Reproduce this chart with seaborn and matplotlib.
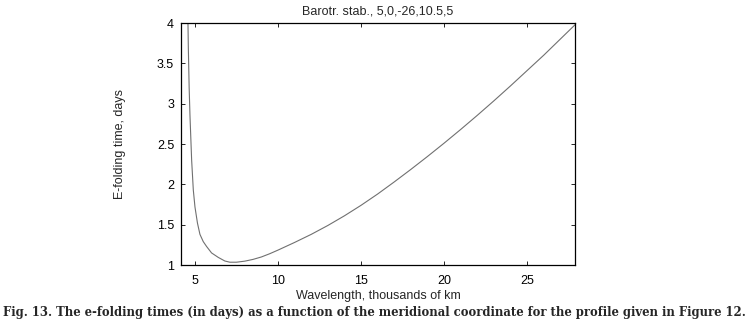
import matplotlib
matplotlib.use("Agg")
import matplotlib.pyplot as plt
import seaborn as sns
import pandas as pd

wavelength = [4.55, 4.6, 4.65, 4.7, 4.8, 4.9, 5.0, 5.15, 5.3, 5.5, 5.7, 6.0, 6.4, 6.8, 7.1,
              7.5, 8.0, 8.5, 9.0, 9.5, 10, 11, 12, 13, 14, 15, 16, 17, 18, 19, 20, 21,
              22, 23, 24, 25, 26, 27, 28]
efold_days = [4.4, 3.7, 3.2, 2.85, 2.3, 1.93, 1.72, 1.52, 1.38, 1.29, 1.23, 1.15, 1.095,
              1.05, 1.035, 1.035, 1.048, 1.07, 1.10, 1.14, 1.185, 1.28, 1.38, 1.49, 1.61,
              1.74, 1.88, 2.03, 2.185, 2.345, 2.51, 2.68, 2.855, 3.035, 3.22, 3.41, 3.60,
              3.80, 4.0]
x_ticks = [5, 10, 15, 20, 25]
y_ticks = [1, 1.5, 2, 2.5, 3, 3.5, 4]
y_tick_labels = ["1", "1.5", "2", "2.5", "3", "3.5", "4"]

title = "Barotr. stab., 5,0,-26,10.5,5"
xlabel = "Wavelength, thousands of km"
ylabel = "E-folding time, days"
caption = ("Fig. 13. The e-folding times (in days) as a function of the meridional "
           "coordinate for the profile given in Figure 12.")

sns.set_theme(style="white")
plt.rcParams['font.family'] = ['Liberation Sans', 'DejaVu Sans']

df = pd.DataFrame({"x": wavelength, "y": efold_days})

fig = plt.figure(figsize=(7.48, 3.24), dpi=100)
ax = fig.add_axes([0.242, 0.182, 0.527, 0.747])
sns.lineplot(data=df, x="x", y="y", ax=ax, color="#707070", linewidth=0.8)

ax.set_xlim(4.16, 27.9)
ax.set_ylim(1, 4)
ax.set_xticks(x_ticks)
ax.set_xticklabels([str(t) for t in x_ticks])
ax.set_yticks(y_ticks)
ax.set_yticklabels(y_tick_labels)
ax.tick_params(direction="in", length=3, width=0.6, top=True, right=True,
               bottom=True, left=True, labelsize=9, colors="black", pad=5)
ax.tick_params(axis="x", pad=7)
for s in ax.spines.values():
    s.set_color("black")
    s.set_linewidth(0.9)
    s.set_visible(True)

ax.set_title(title, fontsize=9, pad=6)
ax.set_xlabel(xlabel, fontsize=9, labelpad=2)
ax.set_ylabel(ylabel, fontsize=9, labelpad=22)

cap = fig.text(0.004, 0.037, caption, fontsize=9.0, fontweight="bold",
               family=["DejaVu Serif"], ha="left", va="center")
fig.canvas.draw()
w = cap.get_window_extent(renderer=fig.canvas.get_renderer()).width
cap.set_fontsize(9.0 * 741.0 / w)

fig.savefig("out.png", dpi=100)
